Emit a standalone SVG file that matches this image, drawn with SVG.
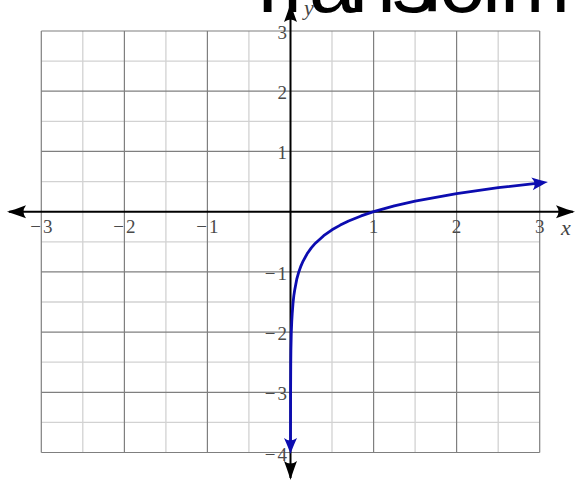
<svg xmlns="http://www.w3.org/2000/svg" width="575" height="483" viewBox="0 0 575 483">
<style>
.minor{stroke:#d2d2d2;stroke-width:1.3;fill:none}
.major{stroke:#7f7f7f;stroke-width:1.2;fill:none}
.axis{stroke:#000;stroke-width:2;fill:none}
.curve{stroke:#0c0cb0;stroke-width:2.8;fill:none;stroke-linejoin:round;stroke-linecap:butt}
.tick{font-family:"Liberation Serif","Times New Roman",serif;font-size:19px;fill:#4a4a4a}
.neg{letter-spacing:2px}
.var{font-family:"Liberation Serif","Times New Roman",serif;font-size:22px;font-style:italic;fill:#444}
.title{font-family:"Liberation Sans",Arial,sans-serif;font-size:84px;fill:#000}
</style>
<defs>
<marker id="blackArrow" markerUnits="userSpaceOnUse" markerWidth="30" markerHeight="20" viewBox="-22 -10 30 20" refX="-2" refY="0" orient="auto-start-reverse">
<path d="M0,0 Q-7,-2 -19,-6.5 Q-14,0 -19,6.5 Q-7,2 0,0 Z" fill="#000"/>
</marker>
<marker id="blueArrow" markerUnits="userSpaceOnUse" markerWidth="30" markerHeight="20" viewBox="-22 -10 30 20" refX="-5" refY="0" orient="auto-start-reverse">
<path d="M0,0 Q-6,-2 -16,-6.5 Q-11,0 -16,6.5 Q-6,2 0,0 Z" fill="#0c0cb0"/>
</marker>
</defs>
<text id="title" class="title" x="242 283 309 349 392 421 439 482 500" y="12">Transform</text>
<g id="grid">
<g class="minor">
<line x1="82.8" y1="31" x2="82.8" y2="452.5"/>
<line x1="165.9" y1="31" x2="165.9" y2="452.5"/>
<line x1="248.9" y1="31" x2="248.9" y2="452.5"/>
<line x1="332.0" y1="31" x2="332.0" y2="452.5"/>
<line x1="415.1" y1="31" x2="415.1" y2="452.5"/>
<line x1="498.2" y1="31" x2="498.2" y2="452.5"/>
<line x1="41.3" y1="61.1" x2="539.7" y2="61.1"/>
<line x1="41.3" y1="121.3" x2="539.7" y2="121.3"/>
<line x1="41.3" y1="181.6" x2="539.7" y2="181.6"/>
<line x1="41.3" y1="241.8" x2="539.7" y2="241.8"/>
<line x1="41.3" y1="302.0" x2="539.7" y2="302.0"/>
<line x1="41.3" y1="362.2" x2="539.7" y2="362.2"/>
<line x1="41.3" y1="422.4" x2="539.7" y2="422.4"/>
</g>
<g class="major">
<line x1="41.3" y1="31" x2="41.3" y2="452.5"/>
<line x1="124.4" y1="31" x2="124.4" y2="452.5"/>
<line x1="207.4" y1="31" x2="207.4" y2="452.5"/>
<line x1="373.6" y1="31" x2="373.6" y2="452.5"/>
<line x1="456.6" y1="31" x2="456.6" y2="452.5"/>
<line x1="539.7" y1="31" x2="539.7" y2="452.5"/>
<line x1="41.3" y1="31" x2="539.7" y2="31"/>
<line x1="41.3" y1="91.2" x2="539.7" y2="91.2"/>
<line x1="41.3" y1="151.4" x2="539.7" y2="151.4"/>
<line x1="41.3" y1="271.9" x2="539.7" y2="271.9"/>
<line x1="41.3" y1="332.1" x2="539.7" y2="332.1"/>
<line x1="41.3" y1="392.3" x2="539.7" y2="392.3"/>
<line x1="41.3" y1="452.5" x2="539.7" y2="452.5"/>
</g>
</g>
<g id="axes">
<line id="x-axis" class="axis" x1="9" y1="211.7" x2="573" y2="211.7" marker-start="url(#blackArrow)" marker-end="url(#blackArrow)"/>
<line id="y-axis" class="axis" x1="290.5" y1="478" x2="290.5" y2="5" marker-start="url(#blackArrow)" marker-end="url(#blackArrow)"/>
</g>
<g id="tick-labels" class="tick">
<g text-anchor="middle">
<text class="neg" x="42.3" y="233">−3</text>
<text class="neg" x="125.4" y="233">−2</text>
<text class="neg" x="208.4" y="233">−1</text>
<text x="373.6" y="233">1</text>
<text x="456.6" y="233">2</text>
<text x="539.7" y="233">3</text>
</g>
<g text-anchor="end">
<text x="287" y="38.5">3</text>
<text x="287" y="98.7">2</text>
<text x="287" y="158.9">1</text>
<text class="neg" x="289" y="279.9">−1</text>
<text class="neg" x="289" y="340.1">−2</text>
<text class="neg" x="289" y="400.3">−3</text>
<text class="neg" x="289" y="460.5">−4</text>
</g>
</g>
<g id="axis-labels" class="var">
<text x="561" y="235">x</text>
<text x="304" y="15">y</text>
</g>
<g id="curve">
<polyline class="curve" marker-start="url(#blueArrow)" marker-end="url(#blueArrow)" points="290.5,449 290.6,392.3 290.75,363.6 290.9,350.2 291.3,332.1 291.75,321.5 292.2,314.0 293.0,303.4 293.8,295.9 294.7,290.0 296.7,279.4 298.8,271.9 300.9,266.1 303.0,261.3 307.1,253.8 311.3,247.9 315.4,243.2 323.7,235.7 332.0,229.8 340.3,225.1 348.6,221.0 361.1,215.95 373.6,211.7 394.3,205.9 415.1,201.1 456.6,193.6 498.2,187.7 543,182.6"/>
</g>
</svg>
